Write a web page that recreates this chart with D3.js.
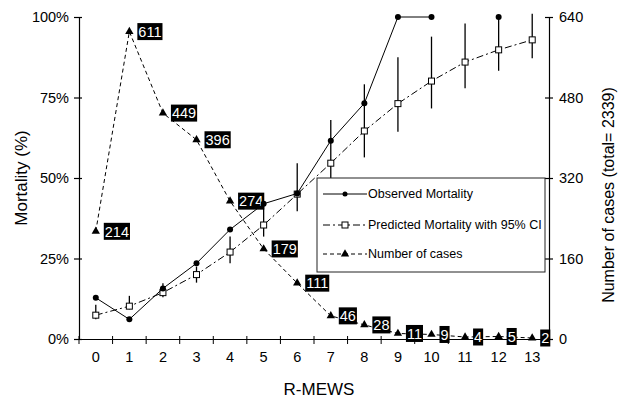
<!DOCTYPE html>
<html>
<head>
<meta charset="utf-8">
<script src="https://cdn.jsdelivr.net/npm/d3@7"></script>
<style>
  body { margin: 0; background: #fff; }
  svg { display: block; }
  text { font-family: Arial, "Liberation Sans", sans-serif; fill: #000; }
</style>
</head>
<body>
<div id="chart"></div>
<script>
// data
const mews = [0, 1, 2, 3, 4, 5, 6, 7, 8, 9, 10, 11, 12, 13]
const observed = [12.8, 6.1, 15.7, 23.5, 34, 42, 45.2, 61.6, 73.2, 100, 100, null, 100, null]
const predicted = [7.4, 10.2, 14.4, 20, 27, 35.4, 45, 54.6, 64.6, 73.1, 80.1, 86, 89.8, 92.9]
const ciLow = [6.1, 9.2, 13, 17.5, 23.5, 31.8, 39.7, 49.9, 56.4, 64.4, 71.6, 77.9, 83.3, 87.2]
const ciHigh = [10.6, 13.4, 17.3, 22.5, 31.8, 41.6, 54.6, 68, 79.1, 87.5, 93.9, 98, 100.6, 101]
const cases = [214, 611, 449, 396, 274, 179, 111, 46, 28, 11, 9, 4, 5, 2]
const pctTicks = [0, 25, 50, 75, 100]
const caseTicks = [0, 160, 320, 480, 640]
const legendLabels = ['Observed Mortality', 'Predicted Mortality with 95% CI', 'Number of cases']

const width = 622
const height = 398
const margin = { top: 17, right: 73, bottom: 59, left: 79 }

const svg = d3.select('#chart').append('svg')
  .attr('width', width)
  .attr('height', height)

const x = d3.scaleBand()
  .domain(mews)
  .range([margin.left, width - margin.right])
  .padding(0)
const cx = (d) => x(d) + x.bandwidth() / 2

const y = d3.scaleLinear()
  .domain([0, 100])
  .range([height - margin.bottom, margin.top])

const y2 = d3.scaleLinear()
  .domain([0, 640])
  .range([height - margin.bottom, margin.top])

// axes
const yAxis = svg.append('g')
  .attr('transform', `translate(${margin.left},0)`)
  .call(d3.axisLeft(y).tickValues(pctTicks).tickFormat((d) => d + '%').tickSizeOuter(0))
yAxis.selectAll('.tick line').attr('x1', 3).attr('x2', -5)
yAxis.selectAll('.tick text').attr('x', -10)

const y2Axis = svg.append('g')
  .attr('transform', `translate(${width - margin.right},0)`)
  .call(d3.axisRight(y2).tickValues(caseTicks).tickSizeOuter(0))
y2Axis.selectAll('.tick line').attr('x1', -4).attr('x2', 4)
y2Axis.selectAll('.tick text').attr('x', 10)

const xAxis = svg.append('g')
  .attr('transform', `translate(0,${height - margin.bottom})`)
  .call(d3.axisBottom(x).tickSize(0).tickSizeOuter(0))
xAxis.selectAll('.tick text').attr('y', 13)
// boundary ticks between categories
xAxis.selectAll('line.sep')
  .data(mews.concat([mews.length]))
  .enter().append('line')
  .attr('class', 'sep')
  .attr('x1', (d, i) => margin.left + i * x.bandwidth())
  .attr('x2', (d, i) => margin.left + i * x.bandwidth())
  .attr('y1', -3)
  .attr('y2', 5)
  .attr('stroke', '#000')

svg.selectAll('.domain').attr('stroke', '#000').attr('stroke-width', 1.2)
svg.selectAll('.tick line').attr('stroke', '#000').attr('stroke-width', 1.2)
svg.selectAll('.tick text').style('font-size', '14.5px').attr('fill', '#000')

// axis titles
svg.append('text')
  .attr('transform', `translate(27,${(y(0) + y(100)) / 2}) rotate(-90)`)
  .attr('text-anchor', 'middle')
  .style('font-size', '17px')
  .text('Mortality (%)')

svg.append('text')
  .attr('transform', `translate(614,195) rotate(-90)`)
  .attr('text-anchor', 'middle')
  .style('font-size', '16px')
  .text('Number of cases (total= 2339)')

svg.append('text')
  .attr('x', 319)
  .attr('y', 395)
  .attr('text-anchor', 'middle')
  .style('font-size', '17px')
  .text('R-MEWS')

// number of cases
const casesLine = d3.line()
  .x((d, i) => cx(mews[i]))
  .y((d) => y2(d))

svg.append('path')
  .datum(cases)
  .attr('d', casesLine)
  .attr('fill', 'none')
  .attr('stroke', '#000')
  .attr('stroke-width', 1)
  .attr('stroke-dasharray', '4,3')

const tri = d3.symbol().type(d3.symbolTriangle).size(30)
svg.selectAll('path.tri')
  .data(cases)
  .enter().append('path')
  .attr('class', 'tri')
  .attr('d', tri)
  .attr('transform', (d, i) => `translate(${cx(mews[i])},${y2(d)})`)
  .attr('fill', '#000')

const labels = svg.selectAll('g.lab')
  .data(cases)
  .enter().append('g')
  .attr('class', 'lab')
  .attr('transform', (d, i) => `translate(${cx(mews[i]) + 8},${y2(d)})`)

labels.append('text')
  .attr('x', 1)
  .attr('dy', '0.36em')
  .style('font-size', '14.5px')
  .style('fill', '#fff')
  .text((d) => d)

labels.each(function () {
  const g = d3.select(this)
  const bb = g.select('text').node().getBBox()
  g.insert('rect', 'text')
    .attr('x', 0)
    .attr('y', -8.5)
    .attr('width', bb.width + 2)
    .attr('height', 17)
    .attr('fill', '#000')
})

// predicted with CI
svg.selectAll('line.ci')
  .data(predicted)
  .enter().append('line')
  .attr('class', 'ci')
  .attr('x1', (d, i) => cx(mews[i]))
  .attr('x2', (d, i) => cx(mews[i]))
  .attr('y1', (d, i) => y(ciLow[i]))
  .attr('y2', (d, i) => y(ciHigh[i]))
  .attr('stroke', '#000')
  .attr('stroke-width', 1.3)

const predLine = d3.line()
  .x((d, i) => cx(mews[i]))
  .y((d) => y(d))

svg.append('path')
  .datum(predicted)
  .attr('d', predLine)
  .attr('fill', 'none')
  .attr('stroke', '#000')
  .attr('stroke-width', 1)
  .attr('stroke-dasharray', '7,3,2,3')

svg.selectAll('rect.pred')
  .data(predicted)
  .enter().append('rect')
  .attr('class', 'pred')
  .attr('x', (d, i) => cx(mews[i]) - 3)
  .attr('y', (d) => y(d) - 3)
  .attr('width', 6)
  .attr('height', 6)
  .attr('fill', '#fff')
  .attr('stroke', '#000')
  .attr('stroke-width', 1)

// observed
const obsLine = d3.line()
  .defined((d) => d !== null)
  .x((d, i) => cx(mews[i]))
  .y((d) => y(d))

svg.append('path')
  .datum(observed)
  .attr('d', obsLine)
  .attr('fill', 'none')
  .attr('stroke', '#000')
  .attr('stroke-width', 1)

svg.selectAll('circle.obs')
  .data(observed.map((v, i) => ({ v, i })).filter((d) => d.v !== null))
  .enter().append('circle')
  .attr('class', 'obs')
  .attr('cx', (d) => cx(mews[d.i]))
  .attr('cy', (d) => y(d.v))
  .attr('r', 3)
  .attr('fill', '#000')

// legend
const legend = svg.append('g').attr('transform', 'translate(317,178)')
legend.append('rect')
  .attr('width', 228)
  .attr('height', 94)
  .attr('fill', '#fff')
  .attr('stroke', '#222')
  .attr('stroke-width', 1)

const rowY = [16, 47, 76]
const dashes = [null, '7,3,2,3', '4,3']
legendLabels.forEach((label, i) => {
  const row = legend.append('g').attr('transform', `translate(0,${rowY[i]})`)
  row.append('line')
    .attr('x1', 6).attr('x2', 50)
    .attr('stroke', '#000')
    .attr('stroke-width', 1)
    .attr('stroke-dasharray', dashes[i])
  if (i === 0) {
    row.append('circle').attr('cx', 28).attr('r', 2.5).attr('fill', '#000')
  } else if (i === 1) {
    row.append('rect').attr('x', 25).attr('y', -3).attr('width', 6).attr('height', 6)
      .attr('fill', '#fff').attr('stroke', '#000')
  } else {
    row.append('path').attr('d', tri).attr('transform', 'translate(28,0)').attr('fill', '#000')
  }
  row.append('text')
    .attr('x', 51)
    .attr('dy', '0.35em')
    .style('font-size', '12.5px')
    .text(label)
})
</script>
</body>
</html>
